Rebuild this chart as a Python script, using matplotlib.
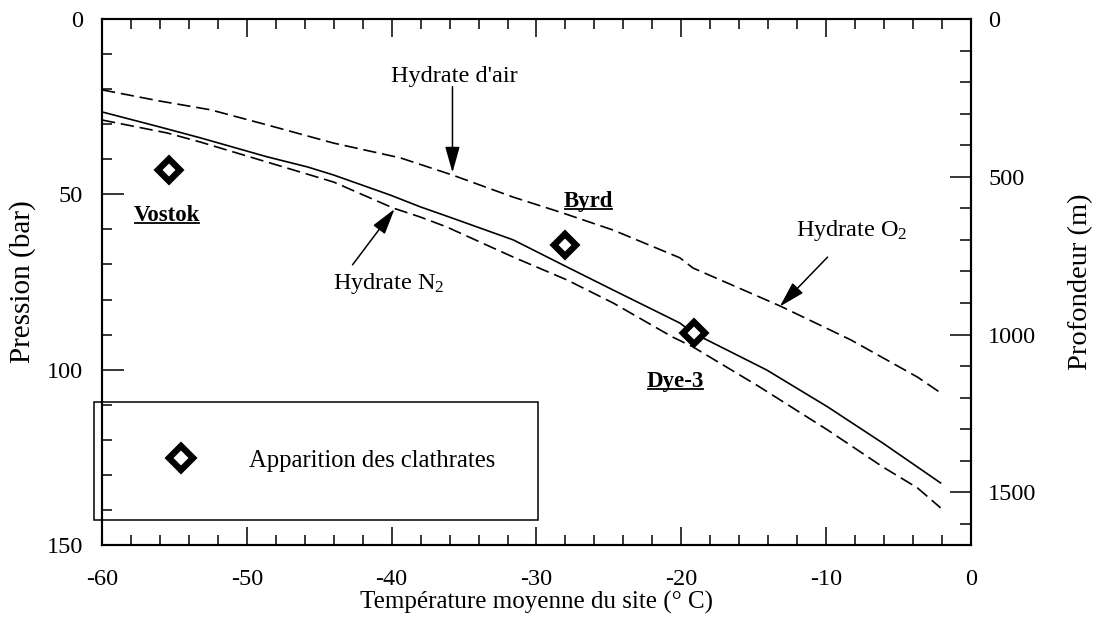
import matplotlib
matplotlib.use("Agg")
import matplotlib.pyplot as plt
from matplotlib.lines import Line2D
from matplotlib.ticker import MultipleLocator

plt.rcParams['font.family'] = 'serif'
plt.rcParams['font.serif'] = ['Liberation Serif', 'DejaVu Serif']
plt.rcParams['mathtext.fontset'] = 'custom'
plt.rcParams['mathtext.rm'] = 'Liberation Serif'
plt.rcParams['mathtext.it'] = 'Liberation Serif:italic'
plt.rcParams['axes.unicode_minus'] = False

# Courbes d'équilibre (température en °C, pression en bar)
temp_o2 = [-60, -56.0, -52.5, -48.6, -44.0, -39.4, -35.8, -31.6, -28.2, -24.7,
           -20.1, -19.2, -13.2, -8.3, -3.7, -2.1]
pres_o2 = [20.2, 23.4, 25.9, 30.2, 35.4, 39.6, 44.5, 50.8, 55.3, 60.2,
           68.1, 71.0, 81.8, 91.5, 102.1, 106.6]

temp_air = [-60, -56.0, -53.2, -48.6, -45.8, -44.0, -40.1, -38.0, -36.0, -31.6,
            -27.9, -24.7, -20.1, -19.2, -14.1, -9.9, -6.1, -2.1]
pres_air = [26.5, 30.8, 33.9, 39.3, 42.2, 44.5, 50.2, 53.6, 56.5, 63.0,
            70.7, 77.3, 86.7, 89.5, 100.1, 110.6, 120.9, 132.3]

temp_n2 = [-60, -55.5, -53.2, -48.6, -44.0, -39.9, -38.0, -36.2, -31.6, -27.9,
           -24.7, -20.6, -19.2, -14.6, -9.9, -6.1, -3.7, -2.1]
pres_n2 = [28.8, 32.5, 35.1, 40.8, 46.5, 53.9, 56.5, 59.3, 67.9, 74.4,
           81.0, 90.7, 93.5, 104.9, 117.2, 127.7, 133.7, 139.4]

# Sites de forage : apparition des clathrates
sites = ['Vostok', 'Byrd', 'Dye-3']
site_temp = [-55.4, -28.0, -19.1]
site_pres = [43.1, 64.4, 89.5]
site_label_temp = [-55.5, -26.4, -20.4]
site_label_pres = [57.6, 53.6, 104.9]

depth_max = 1667  # profondeur correspondant à 150 bar

fig = plt.figure(figsize=(11, 6.25), dpi=100)
ax = fig.add_axes([0.0927, 0.128, 0.79, 0.8416])

dash = (8, 3.5)
ax.plot(temp_o2, pres_o2, color='black', lw=1.2, dashes=dash)
ax.plot(temp_air, pres_air, color='black', lw=1.2)
ax.plot(temp_n2, pres_n2, color='black', lw=1.2, dashes=dash)

ax.plot(site_temp, site_pres, linestyle='none', marker='D', markersize=11,
        markerfacecolor='white', markeredgecolor='black', markeredgewidth=4.6,
        label='Apparition des clathrates')

ax.set_xlim(-60, 0)
ax.set_ylim(150, 0)
ax.xaxis.set_major_locator(MultipleLocator(10))
ax.xaxis.set_minor_locator(MultipleLocator(2))
ax.yaxis.set_major_locator(MultipleLocator(50))
ax.yaxis.set_minor_locator(MultipleLocator(10))

for s in ax.spines.values():
    s.set_linewidth(1.5)

ax.tick_params(axis='x', which='both', direction='in', top=True, width=1.1,
               labelsize=17.5, pad=17)
ax.tick_params(axis='x', which='major', length=13)
ax.tick_params(axis='x', which='minor', length=7)
ax.tick_params(axis='y', which='both', direction='in', right=False, width=1.1,
               labelsize=17.5, pad=13.5)
ax.tick_params(axis='y', which='major', length=16)
ax.tick_params(axis='y', which='minor', length=7.5)

ax.set_xlabel('Température moyenne du site (° C)', fontsize=18)
ax.set_ylabel('Pression (bar)', fontsize=21)
ax.xaxis.set_label_coords(0.5, -0.087)
ax.yaxis.set_label_coords(-0.076, 0.5)

ax2 = ax.twinx()
ax2.set_ylim(depth_max, 0)
ax2.yaxis.set_major_locator(MultipleLocator(500))
ax2.yaxis.set_minor_locator(MultipleLocator(100))
ax2.tick_params(axis='y', which='both', direction='in', width=1.1,
                labelsize=17.5, pad=12.5)
ax2.tick_params(axis='y', which='major', length=15)
ax2.tick_params(axis='y', which='minor', length=8)
ax2.set_ylabel('Profondeur (m)', fontsize=20.5)
ax2.yaxis.set_label_coords(1.112, 0.5)
for s in ax2.spines.values():
    s.set_linewidth(1.5)

# Annotations des courbes
arrow = dict(arrowstyle='-|>,head_length=1.6,head_width=0.45', color='black',
             lw=1.1, shrinkA=0, shrinkB=0, mutation_scale=10)
ax.text(-35.7, 16.3, "Hydrate d'air", fontsize=17.5, ha='center', va='center')
ax.annotate('', xy=(-35.8, 43.8), xytext=(-35.8, 19.3), arrowprops=arrow)
ax.text(-40.2, 75.3, 'Hydrate N$_2$', fontsize=17.5, ha='center', va='center')
ax.annotate('', xy=(-39.8, 54.2), xytext=(-42.7, 70.1), arrowprops=arrow)
ax.text(-8.2, 60.4, 'Hydrate O$_2$', fontsize=17.5, ha='center', va='center')
ax.annotate('', xy=(-13.2, 82.0), xytext=(-9.9, 67.9), arrowprops=arrow)

# Noms des sites, en gras et soulignés
labels = []
for name, x, y in zip(sites, site_label_temp, site_label_pres):
    labels.append(ax.text(x, y, name, fontsize=16.5, fontweight='bold',
                          ha='center', va='baseline'))

leg = ax.legend(loc='center left', bbox_to_anchor=(-0.0092, 0.0494, 0.511, 0.2206),
                mode='expand', fontsize=17.7, frameon=True, fancybox=False,
                edgecolor='black', borderpad=1.95, borderaxespad=0,
                handlelength=3.2, handletextpad=1.15, markerscale=1.1)
leg.get_frame().set_linewidth(1.1)
leg.get_frame().set_alpha(None)
leg.set_zorder(1)

fig.canvas.draw()
renderer = fig.canvas.get_renderer()
inv = fig.transFigure.inverted()
for t in labels:
    bb = t.get_window_extent(renderer)
    xb, yb = ax.transData.transform(t.get_position())
    (x0, y0), (x1, _) = inv.transform([(bb.x0 + 1, yb - 2.5), (bb.x1 - 1, yb - 2.5)])
    fig.add_artist(Line2D([x0, x1], [y0, y0], color='black', lw=1.3,
                          transform=fig.transFigure))

fig.savefig('out.png', dpi=100)
